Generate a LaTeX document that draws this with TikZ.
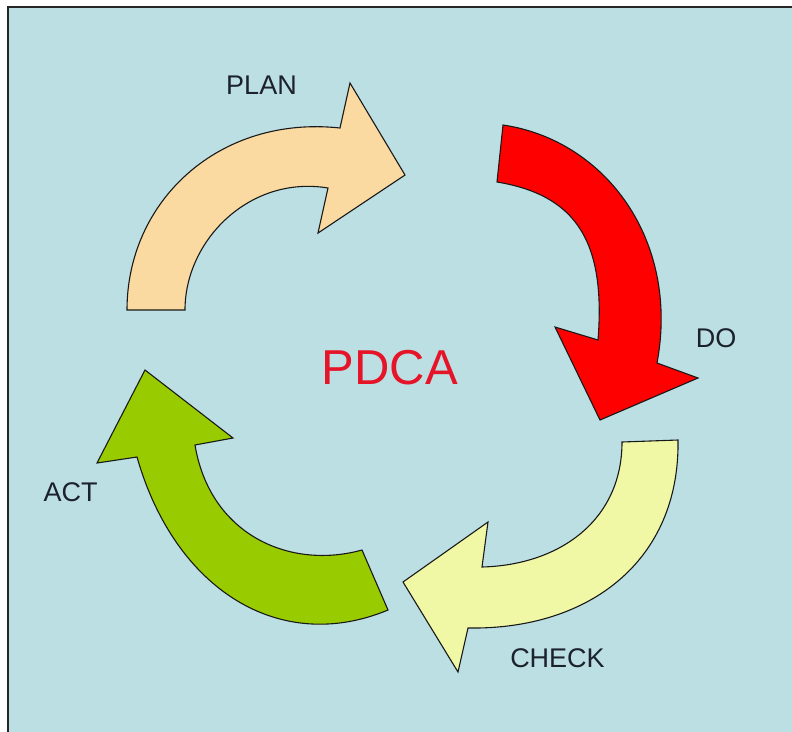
\documentclass[tikz,border=0pt]{standalone}
\usepackage{fontspec}
\setmainfont{Liberation Sans}
\definecolor{bgblue}{RGB}{188,223,227}
\definecolor{planc}{RGB}{250,218,160}
\definecolor{doc}{RGB}{255,0,0}
\definecolor{checkc}{RGB}{240,248,165}
\definecolor{actc}{RGB}{153,204,0}
\definecolor{txt}{RGB}{28,34,44}
\definecolor{pdcared}{RGB}{230,20,40}
\tikzset{
  arrowshape/.style={draw=black!90, line width=1.1pt, line join=miter},
  lbl/.style={inner sep=0pt, text=txt, font=\fontsize{27}{27}\selectfont},
}
\begin{document}
\begin{tikzpicture}[x=1pt,y=-1pt]
\useasboundingbox (0,0) rectangle (792,731);
\clip (0,0) rectangle (792,731);
\fill[white] (0,0) rectangle (792,731);
\draw[fill=bgblue, draw=black!85, line width=2pt] (8,7) rectangle (810,750);

% PLAN arrow
\draw[arrowshape, fill=planc] (127,310) .. controls (127,200) and (220,115) .. (340,128)
  -- (350,83) -- (405,175) -- (318,233) -- (328,188)
  .. controls (250,175) and (185,240) .. (185,310) -- cycle;

% DO arrow
\draw[arrowshape, fill=doc] (503,125) .. controls (605,140) and (680,240) .. (657,363)
  -- (698,378) -- (600,420) -- (555,327) -- (598,340)
  .. controls (606,240) and (575,195) .. (497,182) -- cycle;

% CHECK arrow
\draw[arrowshape, fill=checkc] (678,440) .. controls (680,560) and (590,630) .. (468,628)
  -- (458,672) -- (403,582) -- (488,522) -- (482,567)
  .. controls (560,565) and (622,520) .. (622,442) -- cycle;

% ACT arrow
\draw[arrowshape, fill=actc] (388,610) .. controls (280,655) and (175,590) .. (137,457)
  -- (97,463) -- (145,370) -- (233,438) -- (195,445)
  .. controls (210,535) and (290,570) .. (362,550) -- cycle;

% labels
\node[lbl] (plan) at (261.5,85) {PLAN};
\node[lbl] (do) at (716,338) {DO};
\node[lbl] (check) at (557.5,658.5) {CHECK};
\node[lbl] (act) at (70.5,492) {ACT};
\node[inner sep=0pt, text=pdcared, font=\fontsize{49}{49}\selectfont] (pdca) at (390,367.5) {PDCA};
\end{tikzpicture}
\end{document}
